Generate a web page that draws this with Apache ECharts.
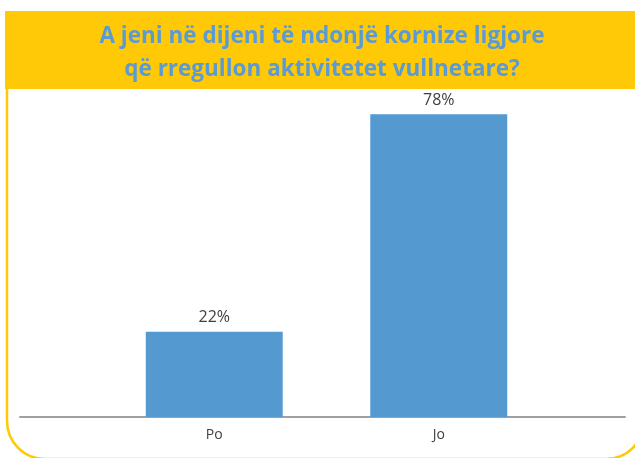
<!DOCTYPE html>
<html><head><meta charset="utf-8">
<script src="https://cdn.jsdelivr.net/npm/echarts@6/dist/echarts.min.js"></script>
<style>html,body{margin:0;padding:0;background:#fff}#c{width:635px;height:458px}</style>
</head><body><div id="c"></div>
<script>
const titleLines = ["A jeni në dijeni të ndonjë kornize ligjore", "që rregullon aktivitetet vullnetare?"];
const categories = ["Po", "Jo"];
const values = [22, 78];

const chart = echarts.init(document.getElementById('c'), null, {renderer: 'canvas'});
chart.setOption({
  backgroundColor: '#ffffff',
  animation: false,
  graphic: [
    {type: 'rect', z: 0, shape: {x: 7, y: 40, width: 637, height: 419, r: 38},
     style: {fill: 'none', stroke: '#FFC907', lineWidth: 2.5}},
    {type: 'rect', z: 1, shape: {x: 5, y: 11, width: 630, height: 78},
     style: {fill: '#FFC907'}},
    {type: 'text', z: 2, x: 322, y: 20,
     style: {text: titleLines.join('\n'), fill: '#5B9BD5', font: 'bold 22.5px "Open Sans", sans-serif',
       align: 'center', verticalAlign: 'top', lineHeight: 33}}
  ],
  grid: [
    {left: 20, right: 10, top: 29, bottom: 41},
    {left: 102, right: 84, top: 29, bottom: 41}
  ],
  xAxis: [
    {type: 'category', gridIndex: 0, data: [], axisLine: {show: true, lineStyle: {color: '#A0A0A0', width: 2}},
     axisTick: {show: false}, axisLabel: {show: false}},
    {type: 'category', gridIndex: 1, data: categories, axisLine: {show: false}, axisTick: {show: false},
     axisLabel: {color: '#404040', fontSize: 14, margin: 11, fontFamily: '"Open Sans", sans-serif'}}
  ],
  yAxis: [
    {type: 'value', gridIndex: 0, min: 0, max: 100, show: false},
    {type: 'value', gridIndex: 1, min: 0, max: 100, show: false}
  ],
  series: [{
    type: 'bar', xAxisIndex: 1, yAxisIndex: 1, data: values, barCategoryGap: '39%',
    itemStyle: {color: '#5599D1'},
    label: {show: true, position: 'top', formatter: '{c}%', color: '#404040', fontSize: 16, distance: 6,
      fontFamily: '"Open Sans", sans-serif'}
  }]
});
</script></body></html>
